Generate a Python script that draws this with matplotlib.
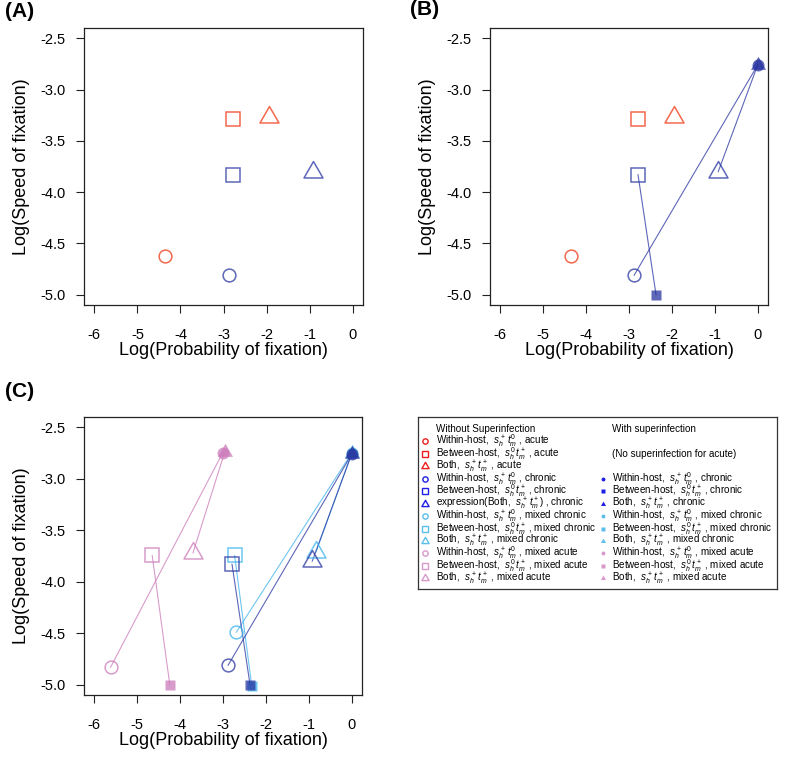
import matplotlib
matplotlib.use('Agg')
import matplotlib.pyplot as plt
from matplotlib.path import Path

plt.rcParams['font.family'] = ['Liberation Sans', 'DejaVu Sans']
plt.rcParams['mathtext.fontset'] = 'custom'
plt.rcParams['mathtext.rm'] = 'Liberation Sans'
plt.rcParams['mathtext.it'] = 'Liberation Sans:italic'
plt.rcParams['mathtext.bf'] = 'Liberation Sans:bold'

# ---------------- data: (log probability, log speed) ----------------
# order within each group: Within-host, Between-host, Both
acute_x = [-4.36, -2.79, -1.94]
acute_y = [-4.62, -3.29, -3.27]
chronic_x = [-2.88, -2.79, -0.92]
chronic_y = [-4.81, -3.83, -3.80]
chronic_si_x = [0.0, -2.37, 0.0]
chronic_si_y = [-2.76, -5.00, -2.76]
mixchronic_x = [-2.69, -2.73, -0.83]
mixchronic_y = [-4.49, -3.745, -3.71]
mixchronic_si_x = [0.0, -2.33, 0.0]
mixchronic_si_y = [-2.75, -5.01, -2.75]
mixacute_x = [-5.62, -4.65, -3.70]
mixacute_y = [-4.83, -3.745, -3.72]
mixacute_si_x = [-3.01, -4.24, -2.96]
mixacute_si_y = [-2.75, -5.00, -2.74]

xticks = [-6, -5, -4, -3, -2, -1, 0]
yticks = [-5.0, -4.5, -4.0, -3.5, -3.0, -2.5]
xlabel = 'Log(Probability of fixation)'
ylabel = 'Log(Speed of fixation)'

# colours
ALPHA = 0.75
c_acute = '#EE3713'
c_chronic = '#2834A0'
c_mixchronic = '#3EB3EB'
c_mixacute = '#CC7BBA'
leg_acute = '#F01E1E'
leg_chronic = '#1E1EE6'
leg_mixchronic = '#5CBEEA'
leg_mixacute = '#D898CA'

tri = Path([(0, 1), (0.866, -0.5), (-0.866, -0.5), (0, 1)],
           [Path.MOVETO, Path.LINETO, Path.LINETO, Path.CLOSEPOLY])
open_mk = [('o', 9.2), ('s', 9.8), (tri, 15.8)]
fill_mk = [('o', 8.6), ('s', 7.6), (tri, 12.5)]

W, H = 787, 764
fig = plt.figure(figsize=(W / 100, H / 100), dpi=100)


def add_ax(l, t, r, b):
    return fig.add_axes([l / W, 1 - b / H, (r - l) / W, (b - t) / H])


def style(ax):
    ax.set_xlim(-6.24, 0.24)
    ax.set_ylim(-5.1, -2.4)
    ax.set_xticks(xticks)
    ax.set_xticklabels([str(v) for v in xticks])
    ax.set_yticks(yticks)
    ax.set_yticklabels(['%.1f' % v for v in yticks])
    ax.tick_params(direction='out', length=6, width=0.8, labelsize=10.5,
                   pad=7, color='#222222')
    ax.tick_params(axis='x', pad=10.5)
    for s in ax.spines.values():
        s.set_linewidth(0.9)
        s.set_color('#222222')
    ax.set_xlabel(xlabel, fontsize=13, labelpad=0)
    ax.set_ylabel(ylabel, fontsize=13, labelpad=8)


def open_pts(ax, xs, ys, c):
    for (m, ms), x, y in zip(open_mk, xs, ys):
        ax.plot([x], [y], linestyle='none', marker=m, ms=ms, mfc='none',
                mec=c, mew=1.1, alpha=ALPHA, zorder=3)


def fill_pts(ax, xs, ys, c):
    for (m, ms), x, y in zip(fill_mk, xs, ys):
        ax.plot([x], [y], linestyle='none', marker=m, ms=ms, mfc=c,
                mec='none', alpha=ALPHA, zorder=3)


def links(ax, x0, y0, x1, y1, c):
    for a, b, cc, d in zip(x0, y0, x1, y1):
        ax.plot([a, cc], [b, d], color=c, lw=0.8, alpha=ALPHA, zorder=2)


# Panel A
axA = add_ax(84, 28, 363, 305)
style(axA)
open_pts(axA, acute_x, acute_y, c_acute)
open_pts(axA, chronic_x, chronic_y, c_chronic)

# Panel B
axB = add_ax(490, 28, 768, 305)
style(axB)
open_pts(axB, acute_x, acute_y, c_acute)
links(axB, chronic_x, chronic_y, chronic_si_x, chronic_si_y, c_chronic)
open_pts(axB, chronic_x, chronic_y, c_chronic)
fill_pts(axB, chronic_si_x, chronic_si_y, c_chronic)

# Panel C
axC = add_ax(84, 417, 362, 695)
style(axC)
for xs, ys, sx, sy, c in [
        (mixacute_x, mixacute_y, mixacute_si_x, mixacute_si_y, c_mixacute),
        (mixchronic_x, mixchronic_y, mixchronic_si_x, mixchronic_si_y, c_mixchronic),
        (chronic_x, chronic_y, chronic_si_x, chronic_si_y, c_chronic)]:
    links(axC, xs, ys, sx, sy, c)
    open_pts(axC, xs, ys, c)
    fill_pts(axC, sx, sy, c)

# panel letters
fig.text(5 / W, 1 - 2 / H, '(A)', fontsize=15, fontweight='bold', va='top', ha='left')
fig.text(410 / W, 1 - 0 / H, '(B)', fontsize=15, fontweight='bold', va='top', ha='left')
fig.text(5 / W, 1 - 382 / H, '(C)', fontsize=15, fontweight='bold', va='top', ha='left')

# ---------------- legend ----------------
L0, T0, R0, B0 = 418, 417, 777, 589
lax = add_ax(L0, T0, R0, B0)
lax.set_xlim(L0, R0)
lax.set_ylim(B0, T0)
lax.set_xticks([])
lax.set_yticks([])
for s in lax.spines.values():
    s.set_linewidth(0.9)
    s.set_color('#333333')

w0 = r'$s_h^+\,t_m^0$'
wp = r'$s_h^0\,t_m^+$'
bb = r'$s_h^+\,t_m^+$'
groups_left = [('acute', leg_acute), ('chronic', leg_chronic),
               ('mixed chronic', leg_mixchronic), ('mixed acute', leg_mixacute)]
left_labels = []
left_styles = []
for g, c in groups_left:
    left_labels += ['Within-host,  %s , %s' % (w0, g),
                    'Between-host,  %s , %s' % (wp, g),
                    'Both,  %s , %s' % (bb, g)]
    left_styles += [('o', 3.8, c), ('s', 4.0, c), (tri, 6.0, c)]
left_labels[5] = r'expression(Both,  $s_h^+\,t_m^+$) , chronic'

right_labels = []
right_styles = []
for g, c in groups_left[1:]:
    right_labels += ['Within-host,  %s , %s' % (w0, g),
                     'Between-host,  %s , %s' % (wp, g),
                     'Both,  %s , %s' % (bb, g)]
    right_styles += [('o', 2.8, c), ('s', 3.0, c), (tri, 4.2, c)]

row0 = 429.0
dy = 12.44
fs = 7.1
lax.text(436, row0 + 3, 'Without Superinfection', fontsize=fs, va='baseline', ha='left')
lax.text(612.5, row0 + 3, 'With superinfection', fontsize=fs, va='baseline', ha='left')
lax.text(612.5, row0 + 2 * dy + 3, '(No superinfection for acute)', fontsize=fs,
         va='baseline', ha='left')
for i, (lab, (m, ms, c)) in enumerate(zip(left_labels, left_styles)):
    y = row0 + (i + 1) * dy
    lax.plot([425], [y], linestyle='none', marker=m, ms=ms, mfc='none', mec=c, mew=1.0)
    lax.text(436, y + 3, lab, fontsize=fs, va='baseline', ha='left')
for i, (lab, (m, ms, c)) in enumerate(zip(right_labels, right_styles)):
    y = row0 + (i + 4) * dy
    lax.plot([603.3], [y], linestyle='none', marker=m, ms=ms, mfc=c, mec='none')
    lax.text(612.5, y + 3, lab, fontsize=fs, va='baseline', ha='left')

fig.savefig('out.png', dpi=100)
